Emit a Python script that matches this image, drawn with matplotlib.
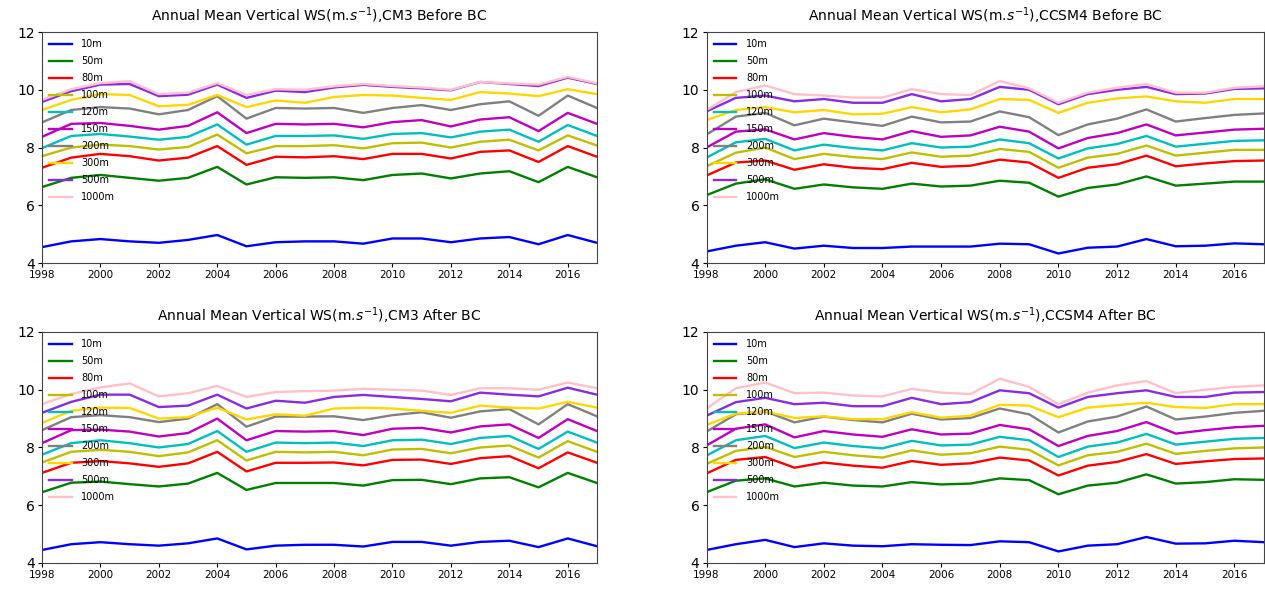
import numpy as np
import matplotlib
matplotlib.use("Agg")
import matplotlib.pyplot as plt

# config
years = list(range(1998, 2018))
heights = ["10m", "50m", "80m", "100m", "120m", "150m", "200m", "300m", "500m", "1000m"]
colors = ["blue", "green", "red", "y", "c", "m", "gray", "gold", "blueviolet", "pink"]

# CM3 before bias correction
cm3_before = {
    "10m":   [4.55, 4.75, 4.83, 4.75, 4.70, 4.80, 4.97, 4.58, 4.72, 4.75, 4.75, 4.67, 4.85, 4.85, 4.72, 4.85, 4.90, 4.65, 4.97, 4.70],
    "50m":   [6.63, 6.95, 7.05, 6.95, 6.85, 6.95, 7.33, 6.72, 6.97, 6.95, 6.97, 6.87, 7.05, 7.10, 6.93, 7.10, 7.18, 6.80, 7.33, 6.97],
    "80m":   [7.30, 7.65, 7.78, 7.70, 7.55, 7.65, 8.05, 7.40, 7.68, 7.66, 7.70, 7.60, 7.78, 7.78, 7.62, 7.85, 7.90, 7.50, 8.05, 7.68],
    "100m":  [7.70, 8.00, 8.10, 8.05, 7.93, 8.02, 8.45, 7.80, 8.05, 8.05, 8.08, 7.97, 8.15, 8.17, 8.00, 8.20, 8.27, 7.90, 8.42, 8.07],
    "120m":  [7.98, 8.40, 8.47, 8.38, 8.27, 8.37, 8.80, 8.10, 8.40, 8.40, 8.42, 8.30, 8.47, 8.50, 8.35, 8.55, 8.62, 8.20, 8.78, 8.40],
    "150m":  [8.37, 8.82, 8.85, 8.75, 8.62, 8.75, 9.22, 8.50, 8.82, 8.80, 8.82, 8.70, 8.88, 8.95, 8.73, 8.97, 9.05, 8.57, 9.20, 8.82],
    "200m":  [8.87, 9.30, 9.40, 9.35, 9.15, 9.30, 9.78, 9.00, 9.37, 9.35, 9.37, 9.20, 9.37, 9.47, 9.30, 9.50, 9.60, 9.10, 9.80, 9.37],
    "300m":  [9.30, 9.65, 9.85, 9.82, 9.43, 9.48, 9.82, 9.40, 9.63, 9.55, 9.75, 9.82, 9.80, 9.72, 9.65, 9.92, 9.87, 9.78, 10.02, 9.85],
    "500m":  [9.58, 9.95, 10.18, 10.20, 9.78, 9.83, 10.18, 9.72, 9.97, 9.92, 10.08, 10.17, 10.10, 10.05, 9.98, 10.27, 10.20, 10.13, 10.42, 10.20],
    "1000m": [9.65, 10.02, 10.23, 10.30, 9.85, 9.90, 10.23, 9.82, 10.02, 10.00, 10.12, 10.20, 10.13, 10.08, 10.00, 10.27, 10.22, 10.18, 10.45, 10.22],
}

# CCSM4 before bias correction
ccsm4_before = {
    "10m":   [4.40, 4.60, 4.72, 4.50, 4.60, 4.52, 4.52, 4.57, 4.57, 4.57, 4.67, 4.65, 4.33, 4.53, 4.57, 4.83, 4.58, 4.60, 4.68, 4.65],
    "50m":   [6.35, 6.75, 6.90, 6.57, 6.72, 6.62, 6.57, 6.75, 6.65, 6.68, 6.85, 6.78, 6.30, 6.60, 6.72, 7.00, 6.68, 6.75, 6.82, 6.82],
    "80m":   [7.03, 7.48, 7.55, 7.23, 7.42, 7.30, 7.25, 7.47, 7.33, 7.37, 7.58, 7.48, 6.95, 7.30, 7.42, 7.72, 7.35, 7.45, 7.53, 7.55],
    "100m":  [7.35, 7.82, 8.00, 7.60, 7.78, 7.67, 7.60, 7.83, 7.68, 7.72, 7.95, 7.85, 7.30, 7.65, 7.78, 8.07, 7.72, 7.82, 7.92, 7.92],
    "120m":  [7.65, 8.18, 8.30, 7.90, 8.10, 7.98, 7.90, 8.15, 8.00, 8.03, 8.28, 8.15, 7.62, 7.97, 8.12, 8.40, 8.03, 8.13, 8.23, 8.25],
    "150m":  [8.00, 8.55, 8.63, 8.28, 8.50, 8.37, 8.28, 8.57, 8.37, 8.42, 8.72, 8.55, 7.97, 8.33, 8.50, 8.80, 8.42, 8.52, 8.62, 8.65],
    "200m":  [8.45, 9.07, 9.20, 8.77, 9.00, 8.87, 8.75, 9.07, 8.87, 8.90, 9.25, 9.05, 8.43, 8.80, 9.00, 9.32, 8.90, 9.02, 9.13, 9.18],
    "300m":  [8.95, 9.30, 9.40, 9.22, 9.30, 9.15, 9.17, 9.40, 9.22, 9.32, 9.68, 9.65, 9.20, 9.55, 9.70, 9.77, 9.60, 9.55, 9.68, 9.68],
    "500m":  [9.25, 9.72, 9.80, 9.60, 9.68, 9.55, 9.55, 9.85, 9.60, 9.68, 10.10, 10.00, 9.50, 9.85, 10.00, 10.10, 9.85, 9.87, 10.03, 10.05],
    "1000m": [9.30, 9.92, 10.15, 9.85, 9.80, 9.73, 9.73, 10.02, 9.85, 9.82, 10.30, 10.05, 9.55, 9.90, 10.07, 10.20, 9.90, 9.90, 10.07, 10.12],
}

# CM3 after bias correction
cm3_after = {
    "10m":   [4.45, 4.65, 4.72, 4.65, 4.60, 4.68, 4.85, 4.47, 4.60, 4.63, 4.63, 4.57, 4.73, 4.73, 4.60, 4.73, 4.77, 4.55, 4.85, 4.58],
    "50m":   [6.45, 6.78, 6.82, 6.73, 6.65, 6.75, 7.12, 6.53, 6.77, 6.77, 6.77, 6.68, 6.87, 6.88, 6.73, 6.93, 6.97, 6.62, 7.12, 6.77],
    "80m":   [7.12, 7.47, 7.53, 7.45, 7.33, 7.45, 7.85, 7.17, 7.47, 7.47, 7.48, 7.38, 7.57, 7.58, 7.43, 7.63, 7.70, 7.28, 7.83, 7.47],
    "100m":  [7.48, 7.85, 7.92, 7.85, 7.70, 7.83, 8.25, 7.55, 7.85, 7.83, 7.85, 7.73, 7.93, 7.95, 7.80, 8.00, 8.07, 7.65, 8.22, 7.85],
    "120m":  [7.75, 8.15, 8.25, 8.15, 8.00, 8.12, 8.57, 7.85, 8.17, 8.15, 8.17, 8.05, 8.25, 8.27, 8.12, 8.33, 8.40, 7.95, 8.55, 8.17],
    "150m":  [8.15, 8.60, 8.62, 8.55, 8.38, 8.50, 9.00, 8.25, 8.57, 8.55, 8.57, 8.43, 8.65, 8.68, 8.52, 8.73, 8.80, 8.33, 8.98, 8.57],
    "200m":  [8.60, 9.05, 9.12, 9.05, 8.88, 9.00, 9.50, 8.72, 9.07, 9.07, 9.08, 8.95, 9.12, 9.22, 9.03, 9.25, 9.33, 8.80, 9.50, 9.08],
    "300m":  [8.85, 9.27, 9.38, 9.37, 9.00, 9.05, 9.38, 8.97, 9.15, 9.10, 9.35, 9.38, 9.35, 9.27, 9.20, 9.45, 9.38, 9.35, 9.58, 9.38],
    "500m":  [9.20, 9.58, 9.83, 9.83, 9.40, 9.45, 9.83, 9.35, 9.62, 9.55, 9.75, 9.82, 9.75, 9.68, 9.60, 9.90, 9.83, 9.77, 10.07, 9.83],
    "1000m": [9.50, 9.85, 10.08, 10.22, 9.77, 9.88, 10.13, 9.75, 9.92, 9.95, 9.97, 10.03, 10.00, 9.97, 9.82, 10.05, 10.05, 10.00, 10.25, 10.05],
}

# CCSM4 after bias correction
ccsm4_after = {
    "10m":   [4.45, 4.65, 4.80, 4.55, 4.68, 4.60, 4.58, 4.65, 4.63, 4.62, 4.75, 4.72, 4.40, 4.60, 4.65, 4.90, 4.67, 4.68, 4.77, 4.72],
    "50m":   [6.45, 6.85, 6.93, 6.65, 6.78, 6.68, 6.65, 6.80, 6.72, 6.75, 6.93, 6.87, 6.38, 6.68, 6.78, 7.07, 6.75, 6.80, 6.90, 6.88],
    "80m":   [7.10, 7.57, 7.67, 7.30, 7.48, 7.37, 7.30, 7.53, 7.40, 7.45, 7.65, 7.55, 7.03, 7.37, 7.50, 7.77, 7.43, 7.52, 7.60, 7.62],
    "100m":  [7.43, 7.88, 8.02, 7.67, 7.85, 7.73, 7.65, 7.90, 7.75, 7.80, 8.03, 7.92, 7.38, 7.73, 7.85, 8.13, 7.78, 7.88, 7.97, 8.00],
    "120m":  [7.72, 8.25, 8.40, 7.98, 8.17, 8.05, 7.97, 8.23, 8.07, 8.10, 8.37, 8.25, 7.67, 8.03, 8.17, 8.47, 8.10, 8.20, 8.30, 8.33],
    "150m":  [8.07, 8.65, 8.80, 8.35, 8.57, 8.45, 8.37, 8.63, 8.45, 8.48, 8.78, 8.63, 8.05, 8.40, 8.57, 8.88, 8.48, 8.60, 8.70, 8.75],
    "200m":  [8.55, 9.15, 9.25, 8.87, 9.07, 8.95, 8.87, 9.17, 8.97, 9.02, 9.35, 9.15, 8.52, 8.90, 9.07, 9.42, 8.97, 9.07, 9.20, 9.27],
    "300m":  [8.78, 9.17, 9.25, 9.02, 9.08, 8.98, 8.98, 9.22, 9.03, 9.10, 9.48, 9.45, 9.05, 9.38, 9.47, 9.55, 9.40, 9.37, 9.50, 9.50],
    "500m":  [9.10, 9.57, 9.72, 9.50, 9.55, 9.43, 9.43, 9.72, 9.50, 9.57, 9.98, 9.88, 9.38, 9.75, 9.88, 9.98, 9.75, 9.75, 9.90, 9.92],
    "1000m": [9.35, 10.05, 10.25, 9.88, 9.90, 9.80, 9.77, 10.03, 9.90, 9.85, 10.38, 10.10, 9.50, 9.90, 10.15, 10.30, 9.88, 10.00, 10.10, 10.15],
}

panels = [
    (cm3_before, "CM3 Before BC"),
    (ccsm4_before, "CCSM4 Before BC"),
    (cm3_after, "CM3 After BC"),
    (ccsm4_after, "CCSM4 After BC"),
]

# axes boxes in figure fractions: left, bottom, width, height
boxes = [
    [0.0332, 0.5542, 0.4387, 0.3915],
    [0.5585, 0.5542, 0.4405, 0.3915],
    [0.0332, 0.0458, 0.4387, 0.3915],
    [0.5585, 0.0458, 0.4405, 0.3915],
]


def plot_panel(ax, data, name):
    for h, c in zip(heights, colors):
        ax.plot(years, data[h], color=c, linewidth=1.7, label=h)
    ax.set_xlim(1998, 2017)
    ax.set_ylim(4, 12)
    ax.set_xticks(range(1998, 2017, 2))
    ax.set_yticks([4, 6, 8, 10, 12])
    ax.tick_params(axis="x", labelsize=7.5, length=3, pad=2)
    ax.tick_params(axis="y", labelsize=10, length=3, pad=2)
    for s in ax.spines.values():
        s.set_color("#444444")
    ax.set_title(f"Annual Mean Vertical WS(m.$s^{{-1}}$),{name}", fontsize=10, pad=8)
    ax.legend(loc="upper left", frameon=False, fontsize=7, labelspacing=0.72,
              handlelength=2.3, handletextpad=1.0, borderaxespad=0.35)


fig = plt.figure(figsize=(12.65, 5.9), dpi=100)
for (data, name), box in zip(panels, boxes):
    ax = fig.add_axes(box)
    plot_panel(ax, data, name)

fig.savefig("out.png", dpi=100)
